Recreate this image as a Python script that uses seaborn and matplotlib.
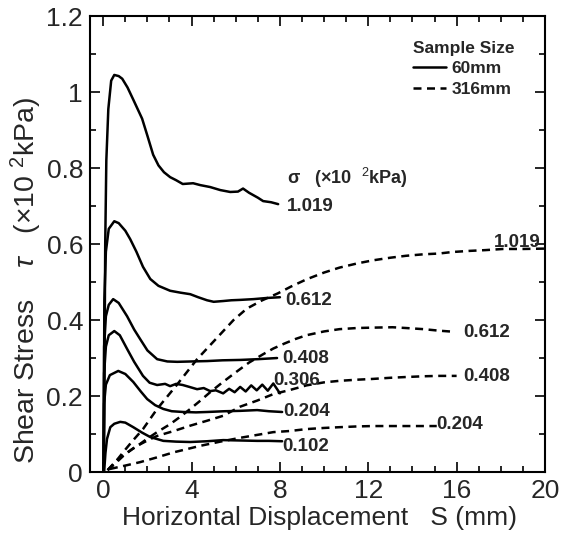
import numpy as np
import pandas as pd
import matplotlib
matplotlib.use("Agg")
import matplotlib.pyplot as plt
from matplotlib.lines import Line2D
import seaborn as sns

# ---- 60 mm specimens (solid) : horizontal displacement S (mm) vs shear stress tau (x10^2 kPa)
s60_1019_x = [0.02, 0.06, 0.09, 0.14, 0.23, 0.36, 0.5, 0.7, 0.86, 1.1, 1.36, 1.76, 2.0, 2.26, 2.5,
              2.75, 3.03, 3.3, 3.6, 4.07, 4.4, 4.84, 5.3, 5.75, 6.1, 6.33, 6.6, 7.0, 7.24, 7.6, 7.92]
s60_1019_y = [0.0, 0.3, 0.6, 0.82, 0.955, 1.03, 1.045, 1.042, 1.035, 1.012, 0.98, 0.93, 0.885, 0.835, 0.807,
              0.789, 0.776, 0.768, 0.758, 0.76, 0.755, 0.75, 0.742, 0.737, 0.738, 0.746, 0.735, 0.722, 0.713, 0.71, 0.705]

s60_0612_x = [0.02, 0.05, 0.12, 0.25, 0.5, 0.7, 1.0, 1.22, 1.5, 1.8, 2.13, 2.5, 3.03, 3.5, 3.94,
              4.3, 4.7, 5.0, 5.43, 5.8, 6.2, 6.8, 7.4, 8.0]
s60_0612_y = [0.0, 0.45, 0.58, 0.64, 0.66, 0.655, 0.635, 0.613, 0.58, 0.54, 0.508, 0.49, 0.477, 0.472, 0.468,
              0.46, 0.452, 0.448, 0.45, 0.452, 0.453, 0.455, 0.458, 0.46]

s60_0408_x = [0.02, 0.04, 0.12, 0.25, 0.45, 0.7, 1.08, 1.4, 1.67, 2.0, 2.44, 2.9, 3.35, 4.0, 4.7,
              5.4, 6.2, 7.0, 7.87]
s60_0408_y = [0.0, 0.33, 0.41, 0.44, 0.455, 0.445, 0.41, 0.375, 0.35, 0.32, 0.297, 0.291, 0.29, 0.291, 0.292,
              0.294, 0.295, 0.297, 0.30]

s60_0306_x = [0.02, 0.04, 0.12, 0.25, 0.5, 0.75, 1.08, 1.4, 1.8, 2.1, 2.44, 2.8, 3.03, 3.3, 3.6, 3.9,
              4.25, 4.55, 4.84, 5.1, 5.43, 5.7, 5.95, 6.2, 6.45, 6.7, 6.95, 7.2, 7.45, 7.7, 8.0]
s60_0306_y = [0.0, 0.26, 0.33, 0.36, 0.371, 0.36, 0.324, 0.29, 0.253, 0.235, 0.229, 0.232, 0.226, 0.232, 0.229, 0.224,
              0.218, 0.221, 0.213, 0.215, 0.207, 0.219, 0.21, 0.224, 0.212, 0.228, 0.215, 0.23, 0.214, 0.233, 0.207]

s60_0204_x = [0.02, 0.04, 0.12, 0.3, 0.68, 1.0, 1.36, 1.7, 1.99, 2.35, 2.72, 3.1, 3.62, 4.2, 4.7,
              5.5, 6.2, 6.97, 7.5, 8.1]
s60_0204_y = [0.0, 0.18, 0.23, 0.255, 0.266, 0.258, 0.237, 0.212, 0.192, 0.176, 0.166, 0.16, 0.158, 0.157, 0.158,
              0.16, 0.161, 0.163, 0.16, 0.158]

s60_0102_x = [0.04, 0.1, 0.17, 0.32, 0.5, 0.77, 1.0, 1.36, 1.75, 2.13, 2.72, 3.3, 3.94, 4.7, 5.43,
              6.2, 6.97, 7.5, 8.1]
s60_0102_y = [0.0, 0.05, 0.087, 0.118, 0.127, 0.132, 0.13, 0.118, 0.104, 0.092, 0.082, 0.08, 0.079, 0.081, 0.084,
              0.083, 0.082, 0.082, 0.081]

# ---- 316 mm specimens (dashed)
s316_1019_x = [0.2, 0.6, 0.9, 1.3, 1.8, 2.44, 3.3, 4.25, 5.1, 5.9, 6.5, 7.2, 7.9, 8.5, 9.2, 10.0,
               10.7, 11.5, 12.2, 13.0, 13.7, 14.5, 15.2, 15.8, 16.6, 17.3, 18.1, 19.0, 20.0]
s316_1019_y = [0.005, 0.03, 0.052, 0.08, 0.113, 0.166, 0.227, 0.297, 0.35, 0.40, 0.43, 0.452, 0.47, 0.488, 0.507, 0.525,
               0.538, 0.549, 0.557, 0.564, 0.569, 0.573, 0.575, 0.579, 0.582, 0.584, 0.587, 0.587, 0.588]

s316_0612_x = [0.2, 0.5, 0.9, 1.3, 1.67, 2.0, 2.44, 3.03, 3.5, 3.94, 4.4, 4.84, 5.4, 6.06, 6.6, 7.24,
               7.7, 8.2, 8.7, 9.2, 10.0, 10.7, 11.5, 12.2, 13.1, 13.7, 14.5, 15.2, 15.9]
s316_0612_y = [0.005, 0.02, 0.042, 0.06, 0.074, 0.088, 0.105, 0.126, 0.146, 0.166, 0.188, 0.21, 0.236, 0.265, 0.288, 0.31,
               0.325, 0.338, 0.35, 0.36, 0.37, 0.376, 0.379, 0.38, 0.381, 0.379, 0.376, 0.372, 0.369]

s316_0408_x = [0.2, 0.6, 1.0, 1.54, 2.0, 2.44, 3.2, 3.94, 4.7, 5.43, 6.2, 6.97, 7.7, 8.46, 9.2, 10.0,
               10.7, 11.5, 12.2, 13.0, 13.7, 14.5, 15.2, 16.0]
s316_0408_y = [0.005, 0.03, 0.048, 0.069, 0.083, 0.095, 0.108, 0.122, 0.135, 0.148, 0.172, 0.188, 0.205, 0.216, 0.228, 0.236,
               0.24, 0.243, 0.245, 0.248, 0.25, 0.252, 0.253, 0.253]

s316_0204_x = [0.3, 1.0, 1.67, 2.4, 3.2, 4.4, 5.3, 6.2, 7.0, 7.7, 8.46, 9.2, 10.0, 10.7, 11.5,
               12.2, 13.0, 13.7, 14.4, 15.1]
s316_0204_y = [0.008, 0.017, 0.026, 0.038, 0.052, 0.069, 0.08, 0.09, 0.098, 0.105, 0.108, 0.113, 0.116, 0.118, 0.12,
               0.121, 0.121, 0.121, 0.121, 0.121]

sizes = ["60mm", "316mm"]
curves = [
    ("60mm", "1.019", s60_1019_x, s60_1019_y),
    ("60mm", "0.612", s60_0612_x, s60_0612_y),
    ("60mm", "0.408", s60_0408_x, s60_0408_y),
    ("60mm", "0.306", s60_0306_x, s60_0306_y),
    ("60mm", "0.204", s60_0204_x, s60_0204_y),
    ("60mm", "0.102", s60_0102_x, s60_0102_y),
    ("316mm", "1.019", s316_1019_x, s316_1019_y),
    ("316mm", "0.612", s316_0612_x, s316_0612_y),
    ("316mm", "0.408", s316_0408_x, s316_0408_y),
    ("316mm", "0.204", s316_0204_x, s316_0204_y),
]

# curve labels: (text, S, tau) placed at the end of each curve
solid_labels = [("1.019", 8.3, 0.700), ("0.612", 8.25, 0.452), ("0.408", 8.1, 0.300),
                ("0.306", 7.7, 0.240), ("0.204", 8.15, 0.158), ("0.102", 8.1, 0.068)]
dashed_labels = [("1.019", 17.7, 0.603), ("0.612", 16.3, 0.366),
                 ("0.408", 16.3, 0.252), ("0.204", 15.1, 0.124)]

x_ticks = [0, 4, 8, 12, 16, 20]
y_ticks = [0, 0.2, 0.4, 0.6, 0.8, 1.0, 1.2]

frames = []
for size, sigma, xs, ys in curves:
    frames.append(pd.DataFrame({"S": xs, "tau": ys, "size": size, "curve": f"{size}-{sigma}"}))
df = pd.concat(frames, ignore_index=True)

sns.set_style("ticks")
plt.rcParams["font.family"] = ["Liberation Sans", "DejaVu Sans"]
plt.rcParams["mathtext.fontset"] = "custom"
plt.rcParams["mathtext.rm"] = "Liberation Sans"
plt.rcParams["mathtext.it"] = "Liberation Sans:italic"

fig = plt.figure(figsize=(5.61, 5.33), dpi=100)
ax = fig.add_axes([0.1604, 0.1144, 0.811, 0.8555])

dash_map = {"60mm": "", "316mm": (3.2, 2.2)}
sns.lineplot(data=df, x="S", y="tau", style="size", units="curve", estimator=None,
             sort=False, color="black", linewidth=1.8, dashes=dash_map,
             style_order=sizes, legend=False, ax=ax)

ax.set_xlim(-0.6, 20)
ax.set_ylim(0, 1.2)
ax.set_xticks(x_ticks)
ax.set_xticks(np.arange(0, 21, 1), minor=True)
ax.set_yticks(y_ticks)
ax.set_yticks(np.arange(0, 1.21, 0.1), minor=True)
ax.set_xticklabels([f"{t:g}" for t in x_ticks])
ax.set_yticklabels([f"{t:g}" for t in y_ticks])
ax.tick_params(which="both", direction="in", top=True, right=True, width=1.2, color="black")
ax.tick_params(which="major", length=7, labelsize=19, pad=5)
ax.tick_params(which="minor", length=4)
for sp in ax.spines.values():
    sp.set_linewidth(1.5)
    sp.set_color("black")

ax.set_xlabel("Horizontal Displacement   S (mm)", fontsize=19)
ax.set_ylabel(r"Shear Stress    $\tau$   (×10 $^{2}$kPa)", fontsize=20.5)
ax.xaxis.set_label_coords(0.505, -0.075)
ax.yaxis.set_label_coords(-0.1, 0.42)

for txt, sx, ty in solid_labels + dashed_labels:
    ax.text(sx, ty, txt, fontsize=13.5, fontweight="bold", ha="left", va="center")

ax.text(8.3, 0.775, r"σ   (×10  $^{2}$kPa)", fontsize=13, fontweight="bold", ha="left", va="center")

handles = [Line2D([], [], color="black", lw=1.8, ls="-"),
           Line2D([], [], color="black", lw=1.8, dashes=(3.2, 2.2))]
leg = ax.legend(handles, sizes, title="Sample Size", loc="upper left",
                bbox_to_anchor=(0.71, 0.945), frameon=False, fontsize=12.5,
                title_fontsize=12.5, handlelength=1.9, handletextpad=0.3,
                labelspacing=0.3, borderpad=0, borderaxespad=0, alignment="left")
leg.get_title().set_fontweight("bold")
for t in leg.get_texts():
    t.set_fontweight("bold")

fig.savefig("out.png", dpi=100)
